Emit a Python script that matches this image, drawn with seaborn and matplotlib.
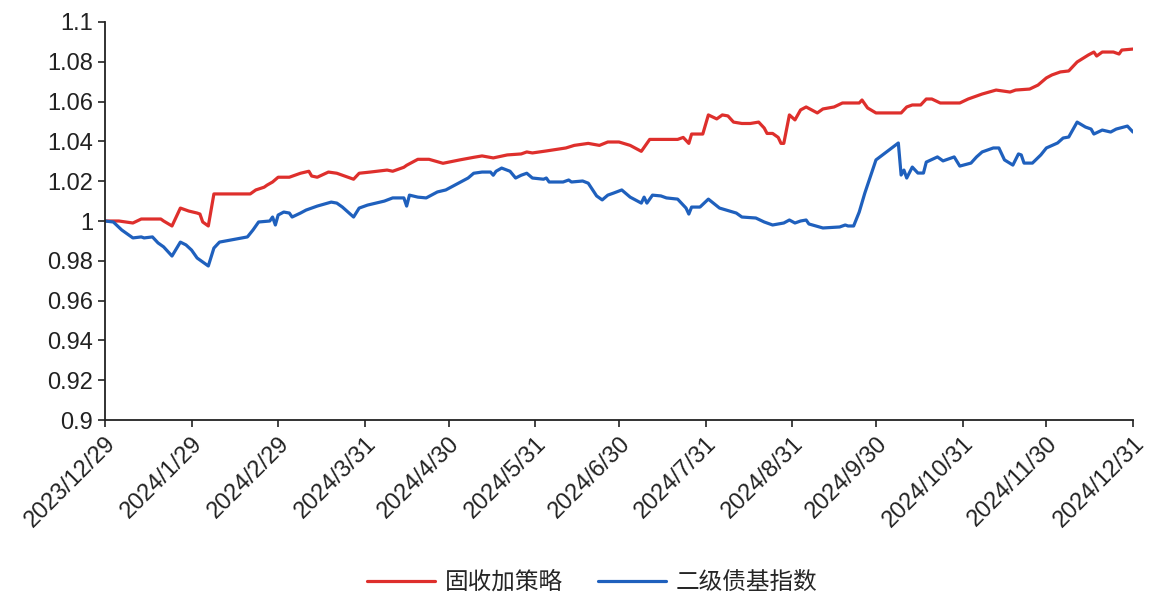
import pandas as pd
import seaborn as sns
from matplotlib import pyplot as plt

# values (day offset from 2023/12/29, net value)
start_date = "2023-12-29"
red_name = "固收加策略"
blue_name = "二级债基指数"

red_day = [0, 5, 10, 13, 18, 20, 21, 24, 27, 30, 33, 34, 35, 37, 39, 52, 54, 57, 58, 60,
           62, 66, 70, 73, 74, 76, 80, 83, 89, 91, 95, 101, 103, 107, 108, 112, 116, 121, 127, 132,
           135, 139, 144, 149, 151, 153, 158, 165, 168, 173, 177, 180, 184, 188, 192, 194, 195, 205, 207, 209,
           210, 214, 216, 219, 221, 223, 225, 228, 231, 234, 236, 237, 239, 241, 242, 243, 245, 247, 249, 251,
           255, 257, 261, 264, 270, 271, 273, 276, 285, 287, 289, 292, 294, 296, 299, 306, 309, 312, 314, 319,
           324, 326, 331, 334, 337, 339, 342, 345, 348, 352, 354, 355, 357, 361, 363, 364, 368]
red_val = [1.000, 1.000, 0.999, 1.001, 1.001, 1.001, 1.000, 0.9975, 1.0065, 1.005, 1.004, 1.0035, 0.9995, 0.9975, 1.0136, 1.0136, 1.0156, 1.017, 1.018, 1.0196,
           1.022, 1.022, 1.024, 1.025, 1.0226, 1.022, 1.0246, 1.024, 1.021, 1.024, 1.0246, 1.0256, 1.025, 1.027, 1.028, 1.031, 1.031, 1.029, 1.0307, 1.032,
           1.0327, 1.0317, 1.0332, 1.0337, 1.0347, 1.0342, 1.0352, 1.0367, 1.038, 1.039, 1.038, 1.0397, 1.0397, 1.038, 1.035, 1.039, 1.041, 1.041, 1.042, 1.039,
           1.0437, 1.0437, 1.0533, 1.0513, 1.0533, 1.0528, 1.0497, 1.049, 1.049, 1.0497, 1.0467, 1.044, 1.044, 1.042, 1.039, 1.039, 1.0533, 1.0508, 1.0558, 1.0573,
           1.0543, 1.0563, 1.0573, 1.0593, 1.0593, 1.0608, 1.0568, 1.0543, 1.0543, 1.0573, 1.0583, 1.0583, 1.0613, 1.0613, 1.0593, 1.0593, 1.0613, 1.0628, 1.0638, 1.0658,
           1.0648, 1.0658, 1.0663, 1.0683, 1.0719, 1.0734, 1.0749, 1.0754, 1.0799, 1.0834, 1.0849, 1.0829, 1.0849, 1.0849, 1.0839, 1.0859, 1.0864]

blue_day = [0, 3, 6, 10, 13, 14, 17, 19, 21, 24, 27, 29, 31, 33, 35, 37, 39, 41, 51, 53,
            55, 59, 60, 61, 62, 64, 66, 67, 70, 72, 76, 81, 83, 85, 89, 91, 94, 97, 100, 103,
            107, 108, 109, 112, 115, 119, 122, 126, 130, 132, 135, 138, 139, 140, 142, 145, 147, 149, 151, 153,
            157, 158, 159, 164, 166, 167, 171, 173, 176, 178, 180, 182, 185, 188, 192, 193, 194, 196, 199, 201,
            205, 208, 209, 210, 213, 216, 220, 226, 228, 233, 236, 239, 243, 245, 247, 249, 251, 252, 257, 263,
            265, 266, 268, 270, 272, 276, 284, 285, 286, 287, 289, 291, 293, 294, 298, 300, 304, 306, 310, 312,
            314, 318, 320, 322, 325, 327, 328, 329, 332, 335, 337, 341, 343, 345, 348, 351, 353, 354, 357, 360,
            362, 366, 368]
blue_val = [1.000, 0.9995, 0.9955, 0.9915, 0.992, 0.9915, 0.992, 0.989, 0.987, 0.9824, 0.9894, 0.988, 0.9854, 0.9814, 0.9794, 0.9774, 0.9864, 0.9894, 0.992, 0.9955,
            0.9995, 1.000, 1.002, 0.998, 1.003, 1.0045, 1.004, 1.002, 1.004, 1.0055, 1.0075, 1.0095, 1.009, 1.007, 1.002, 1.0065, 1.008, 1.009, 1.010, 1.0116,
            1.0116, 1.0075, 1.013, 1.012, 1.0116, 1.0146, 1.0156, 1.0186, 1.0216, 1.024, 1.0246, 1.0246, 1.023, 1.025, 1.0266, 1.025, 1.0216, 1.023, 1.024, 1.0216,
            1.021, 1.0216, 1.0196, 1.0196, 1.0206, 1.0196, 1.0201, 1.019, 1.0126, 1.0106, 1.013, 1.014, 1.0156, 1.012, 1.009, 1.012, 1.009, 1.013, 1.0126, 1.0116,
            1.011, 1.0065, 1.0035, 1.007, 1.007, 1.011, 1.0065, 1.004, 1.002, 1.0015, 0.9995, 0.998, 0.999, 1.0005, 0.999, 1.000, 1.0005, 0.9985, 0.9965, 0.997,
            0.998, 0.9975, 0.9975, 1.0045, 1.014, 1.0307, 1.0392, 1.0231, 1.0256, 1.0216, 1.0271, 1.0241, 1.0241, 1.0296, 1.0322, 1.0302, 1.0322, 1.0276, 1.0291, 1.0322,
            1.0347, 1.0367, 1.0367, 1.0307, 1.0281, 1.0337, 1.0332, 1.0291, 1.0291, 1.0332, 1.0367, 1.0392, 1.0417, 1.0422, 1.0497, 1.0472, 1.0462, 1.0437, 1.0457, 1.0447,
            1.0462, 1.0477, 1.0447]

tick_dates = ["2023-12-29", "2024-01-29", "2024-02-29", "2024-03-31", "2024-04-30", "2024-05-31", "2024-06-30",
              "2024-07-31", "2024-08-31", "2024-09-30", "2024-10-31", "2024-11-30", "2024-12-31"]
tick_labels = ["2023/12/29", "2024/1/29", "2024/2/29", "2024/3/31", "2024/4/30", "2024/5/31", "2024/6/30",
               "2024/7/31", "2024/8/31", "2024/9/30", "2024/10/31", "2024/11/30", "2024/12/31"]
y_ticks = [0.9, 0.92, 0.94, 0.96, 0.98, 1.0, 1.02, 1.04, 1.06, 1.08, 1.1]

sns.set_theme(style="ticks")
plt.rcParams['font.family'] = ['Liberation Sans', 'Noto Sans CJK SC', 'DejaVu Sans']

t0 = pd.Timestamp(start_date)
red_df = pd.DataFrame({'date': t0 + pd.to_timedelta(red_day, unit='D'), 'value': red_val, 'series': red_name})
blue_df = pd.DataFrame({'date': t0 + pd.to_timedelta(blue_day, unit='D'), 'value': blue_val, 'series': blue_name})
data = pd.concat([red_df, blue_df], ignore_index=True)

fig = plt.figure(figsize=(11.52, 6.09), dpi=100)
ax = fig.add_axes([0.0911, 0.3103, 0.8924, 0.6536])

sns.lineplot(data=data, x='date', y='value', hue='series', ax=ax,
             palette={red_name: '#DE2F2C', blue_name: '#1F60BD'},
             linewidth=2.3, estimator=None, errorbar=None)

ax.set_xlim(pd.Timestamp(tick_dates[0]), pd.Timestamp(tick_dates[-1]))
ax.set_ylim(0.9, 1.1)
ax.set_xticks(pd.to_datetime(tick_dates))
ax.set_xticklabels(tick_labels, rotation=45, ha='right', rotation_mode='anchor')
ax.set_yticks(y_ticks)
ax.set_yticklabels(["%g" % v for v in y_ticks])
ax.set_xlabel("")
ax.set_ylabel("")

ax.tick_params(axis='both', labelsize=17, colors='#222222', length=5, width=1.2, direction='out')
ax.tick_params(axis='x', pad=4)
for side in ['top', 'right']:
    ax.spines[side].set_visible(False)
for side in ['left', 'bottom']:
    ax.spines[side].set_color('#222222')
    ax.spines[side].set_linewidth(1.3)

sns.move_legend(ax, 'center', bbox_to_anchor=(0.514, 0.043), bbox_transform=fig.transFigure,
                ncol=2, title=None, frameon=False, fontsize=17,
                handlelength=2.9, handletextpad=0.4, columnspacing=1.5)

fig.savefig('out.png', dpi=100)
